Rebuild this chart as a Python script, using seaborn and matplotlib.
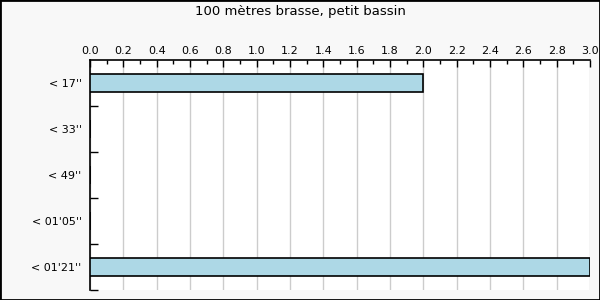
import matplotlib
matplotlib.use("Agg")
import matplotlib.pyplot as plt
import seaborn as sns
import pandas as pd
import numpy as np
from matplotlib.ticker import MultipleLocator, FixedLocator

categories = ["< 17''", "< 33''", "< 49''", "< 01'05''", "< 01'21''"]
values = [2, 0, 0, 0, 3]
xticks = [0.0, 0.2, 0.4, 0.6, 0.8, 1.0, 1.2, 1.4, 1.6, 1.8, 2.0, 2.2, 2.4, 2.6, 2.8, 3.0]
title = "100 mètres brasse, petit bassin"

sns.set_style("white")
plt.rcParams['font.family'] = ['DejaVu Sans']
plt.rcParams['text.color'] = 'black'
plt.rcParams['xtick.labelcolor'] = 'black'
plt.rcParams['ytick.labelcolor'] = 'black'

df = pd.DataFrame({"cat": categories, "val": values})

fig = plt.figure(figsize=(6, 3), dpi=100, facecolor="#f8f8f8")
ax = fig.add_axes([90/600, 10/300, 500/600, 230/300])
ax.set_facecolor("white")

sns.barplot(data=df, x="val", y="cat", orient="h", color="#add8e6",
            edgecolor="black", linewidth=1.2, width=0.4, saturation=1, ax=ax,
            zorder=3)

ax.set_xlim(0, 3.0)
ax.set_ylim(len(categories) - 0.5, -0.5)
ax.xaxis.tick_top()
ax.set_xticks(xticks)
ax.set_xticklabels([f"{t:.1f}" for t in xticks])
ax.xaxis.set_minor_locator(MultipleLocator(0.1))
ax.tick_params(axis="x", which="major", direction="in", length=5, width=1,
               labelsize=8, pad=3, top=True, bottom=False, color="black",
               labelcolor="black")
ax.tick_params(axis="x", which="minor", direction="in", length=3, width=1,
               top=True, bottom=False, color="black")

ax.yaxis.set_minor_locator(FixedLocator(np.arange(0.5, len(categories), 1.0)))
ax.tick_params(axis="y", which="major", length=0, labelsize=8, pad=6,
               labelcolor="black")
ax.tick_params(axis="y", which="minor", direction="in", length=6, width=1,
               left=True, color="black")

ax.set_xlabel("")
ax.set_ylabel("")
ax.grid(axis="x", which="major", color="#cccccc", linewidth=1, zorder=0)
ax.set_axisbelow(True)

for s in ["right", "bottom"]:
    ax.spines[s].set_visible(False)
for s in ["top", "left"]:
    ax.spines[s].set_visible(True)
    ax.spines[s].set_color("black")
    ax.spines[s].set_linewidth(1.2)

fig.text(0.5, 1 - 11/300, title, ha="center", va="center", fontsize=9.5,
         color="black")

border = plt.Rectangle((0, 0), 1, 1, transform=fig.transFigure, fill=False,
                       edgecolor="black", linewidth=2)
fig.patches.append(border)

fig.savefig("out.png", dpi=100, facecolor=fig.get_facecolor())
